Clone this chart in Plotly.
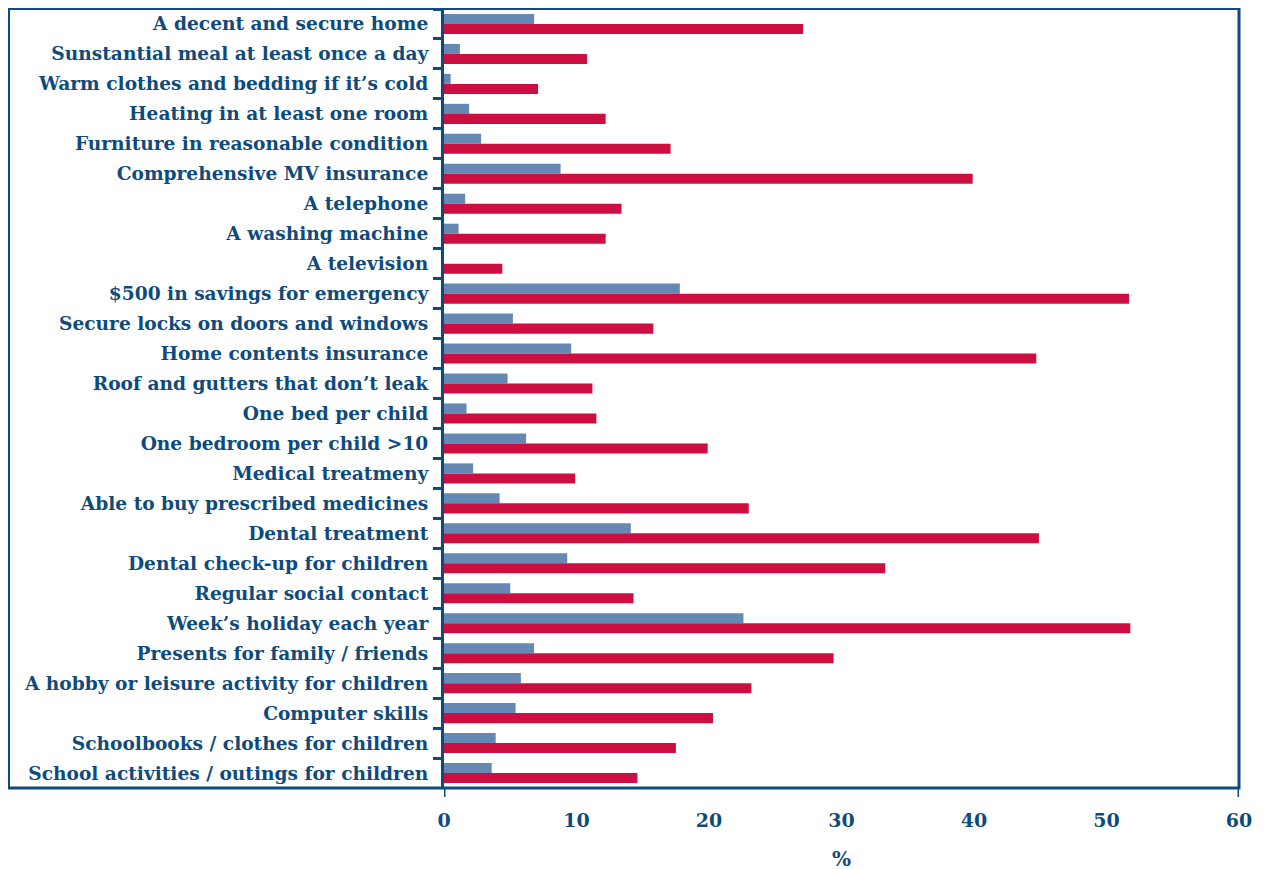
import plotly.graph_objects as go

categories = [
    "A decent and secure home",
    "Sunstantial meal at least once a day",
    "Warm clothes and bedding if it\u2019s cold",
    "Heating in at least one room",
    "Furniture in reasonable condition",
    "Comprehensive MV insurance",
    "A telephone",
    "A washing machine",
    "A television",
    "$500 in savings for emergency",
    "Secure locks on doors and windows",
    "Home contents insurance",
    "Roof and gutters that don\u2019t leak",
    "One bed per child",
    "One bedroom per child >10",
    "Medical treatmeny",
    "Able to buy prescribed medicines",
    "Dental treatment",
    "Dental check-up for children",
    "Regular social contact",
    "Week\u2019s holiday each year",
    "Presents for family / friends",
    "A hobby or leisure activity for children",
    "Computer skills",
    "Schoolbooks / clothes for children",
    "School activities / outings for children",
]

blue_values = [6.8, 1.2, 0.5, 1.9, 2.8, 8.8, 1.6, 1.1, 0.0, 17.8, 5.2, 9.6, 4.8, 1.7,
               6.2, 2.2, 4.2, 14.1, 9.3, 5.0, 22.6, 6.8, 5.8, 5.4, 3.9, 3.6]
red_values = [27.1, 10.8, 7.1, 12.2, 17.1, 39.9, 13.4, 12.2, 4.4, 51.7, 15.8, 44.7, 11.2, 11.5,
              19.9, 9.9, 23.0, 44.9, 33.3, 14.3, 51.8, 29.4, 23.2, 20.3, 17.5, 14.6]

x_ticks = [0, 10, 20, 30, 40, 50, 60]

NAVY = "#0f4a7c"
FONT = "DejaVu Serif"

fig = go.Figure()
fig.add_trace(go.Bar(y=categories, x=blue_values, orientation="h",
                     marker=dict(color="#6589b3", line=dict(width=0)), name="blue"))
fig.add_trace(go.Bar(y=categories, x=red_values, orientation="h",
                     marker=dict(color="#cc0e40", line=dict(width=0)), name="red"))

W, H = 1269, 869
L, T = 436, 1
PR, PB = 1231, 780          # plot right / bottom in figure pixels
R, B = W - PR, H - PB
pw, ph = PR - L, PB - T

fig.update_layout(
    width=W, height=H,
    margin=dict(l=L, r=R, t=T, b=B, autoexpand=False),
    barmode="group", bargap=0.33, bargroupgap=0,
    plot_bgcolor="white", paper_bgcolor="white",
    showlegend=False,
    font=dict(family=FONT, color=NAVY, size=18.6),
    xaxis=dict(range=[0, 60], tickvals=x_ticks, showgrid=False, zeroline=False,
               showline=False, ticks="", ticklabelstandoff=19,
               tickfont=dict(family=FONT, size=19, color=NAVY, weight="bold"),
               title=dict(text="%", standoff=21,
                          font=dict(family=FONT, size=20, color=NAVY, weight="bold"))),
    yaxis=dict(autorange="reversed", showgrid=False, zeroline=False,
               showline=True, linecolor=NAVY, linewidth=3,
               ticks="outside", ticklen=8, tickwidth=3, tickcolor=NAVY,
               tickson="boundaries", ticklabelstandoff=9,
               tickfont=dict(family=FONT, size=18.6, color=NAVY, weight="bold")),
)

# outer frame enclosing the labels
fig.add_shape(type="rect", xref="paper", yref="paper",
              x0=(0.5 - L) / pw, x1=1.0, y0=0, y1=1.0 + (T - 0.5) / ph,
              line=dict(color=NAVY, width=3), layer="above")
# short ticks below the frame at 0 and 60
for xv in (0, 60):
    fig.add_shape(type="line", xref="x", yref="paper", x0=xv, x1=xv,
                  y0=0, y1=-9 / ph, line=dict(color=NAVY, width=3))

fig.write_html("out.html")
